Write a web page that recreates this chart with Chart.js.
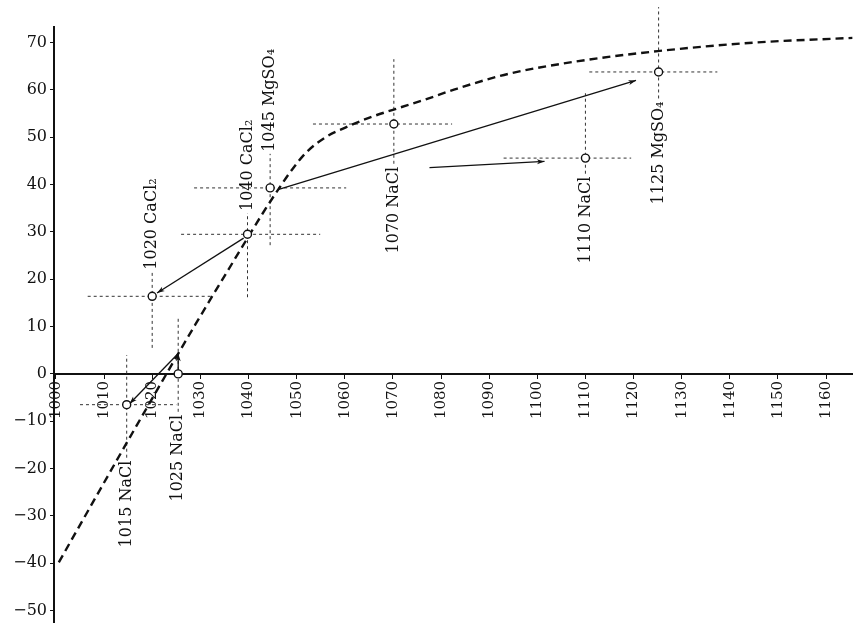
<!DOCTYPE html>
<html>
<head>
<meta charset="utf-8">
<script src="https://cdn.jsdelivr.net/npm/chart.js@4/dist/chart.umd.min.js"></script>
<style>
  html, body { margin: 0; padding: 0; background: #fff; }
  canvas { display: block; }
</style>
</head>
<body>
<canvas id="chart" width="858" height="635"></canvas>
<script>
'use strict';

// axis ticks
const xTicks = [1000, 1010, 1020, 1030, 1040, 1050, 1060, 1070, 1080, 1090, 1100, 1110, 1120, 1130, 1140, 1150, 1160];
const yTicks = [-50, -40, -30, -20, -10, 0, 10, 20, 30, 40, 50, 60, 70];

// dashed curve
const curveX = [1000.6, 1017, 1029, 1037, 1043, 1047, 1049, 1052, 1056, 1060, 1065, 1070, 1076.5, 1083.4, 1094, 1108, 1125, 1145, 1165.5];
const curveY = [-39.8, -10.5, 10.5, 24, 34, 40.2, 43.1, 46.8, 50.0, 52.0, 54.1, 55.8, 57.9, 60.3, 63.4, 66, 68.2, 70, 71];

// observations with their dotted cross ranges
const obsNames = ['1015 NaCl', '1025 NaCl', '1020 CaCl₂', '1040 CaCl₂', '1045 MgSO₄', '1070 NaCl', '1110 NaCl', '1125 MgSO₄'];
const obsX = [1014.7, 1025.4, 1020.0, 1039.8, 1044.5, 1070.2, 1110.0, 1125.2];
const obsY = [-6.5, 0, 16.4, 29.5, 39.3, 52.8, 45.6, 63.8];
const barXLo = [1005.0, null, 1006.6, 1026.0, 1028.7, 1053.4, 1093.0, 1110.8];
const barXHi = [1025.0, null, 1032.4, 1054.9, 1060.3, 1082.3, 1119.5, 1137.4];
const barYLo = [-17.7, -8.0, 5.5, 16.2, 27.2, 44.4, 42.3, 58.2];
const barYHi = [4.0, 12.1, 21.6, 34.0, 46.5, 66.5, 59.3, 77.5];
const labelSide = ['below', 'below', 'above', 'above', 'above', 'below', 'below', 'below'];

// arrows (from -> to)
const arrowFromX = [1039.0, 1046.3, 1077.6, 1025.4, 1025.4];
const arrowFromY = [28.7, 39.0, 43.6, 0.8, 4.3];
const arrowToX = [1021.0, 1120.5, 1101.5, 1025.4, 1015.3];
const arrowToY = [17.1, 62.0, 44.9, 4.3, -6.3];

const INK = '#111';
const SERIF = "'DejaVu Serif', 'Liberation Serif', serif";

// dotted crosses as one broken line
const crossData = [];
obsX.forEach((x, i) => {
    if (barXLo[i] !== null) {
        crossData.push({ x: barXLo[i], y: obsY[i] }, { x: barXHi[i], y: obsY[i] }, { x: x, y: null });
    }
    crossData.push({ x: x, y: barYLo[i] }, { x: x, y: barYHi[i] }, { x: x, y: null });
});

const arrowSets = arrowFromX.map((fx, i) => ({
    data: [{ x: fx, y: arrowFromY[i] }, { x: arrowToX[i], y: arrowToY[i] }],
    showLine: true,
    borderColor: INK,
    borderWidth: 1.3,
    pointRadius: 0,
    clip: false
}));

const datasets = [
    {
        data: obsX.map((x, i) => ({ x: x, y: obsY[i] })),
        showLine: false,
        pointRadius: 4,
        pointBackgroundColor: '#fff',
        pointBorderColor: INK,
        pointBorderWidth: 1.4
    },
    ...arrowSets,
    {
        data: curveX.map((x, i) => ({ x: x, y: curveY[i] })),
        showLine: true,
        borderColor: INK,
        borderWidth: 2.4,
        borderDash: [8, 5],
        cubicInterpolationMode: 'monotone',
        pointRadius: 0
    },
    {
        data: crossData,
        showLine: true,
        spanGaps: false,
        borderColor: '#333',
        borderWidth: 1,
        borderDash: [3, 3],
        pointRadius: 0,
        clip: false
    }
];

const annotate = {
    id: 'annotate',
    afterDatasetsDraw(chart) {
        const ctx = chart.ctx;
        const xs = chart.scales.x;
        const ys = chart.scales.y;

        // arrow heads at the end of each arrow dataset
        arrowSets.forEach((_, k) => {
            const pts = chart.getDatasetMeta(1 + k).data;
            const a = pts[0], b = pts[1];
            const ang = Math.atan2(b.y - a.y, b.x - a.x);
            const len = 8;
            ctx.save();
            ctx.fillStyle = INK;
            ctx.beginPath();
            ctx.moveTo(b.x, b.y);
            ctx.lineTo(b.x - len * Math.cos(ang - 0.32), b.y - len * Math.sin(ang - 0.32));
            ctx.lineTo(b.x - len * 0.7 * Math.cos(ang), b.y - len * 0.7 * Math.sin(ang));
            ctx.lineTo(b.x - len * Math.cos(ang + 0.32), b.y - len * Math.sin(ang + 0.32));
            ctx.closePath();
            ctx.fill();
            ctx.restore();
        });

        // vertical labels
        obsNames.forEach((name, i) => {
            const px = xs.getPixelForValue(obsX[i]);
            const above = labelSide[i] === 'above';
            const py = above ? ys.getPixelForValue(barYHi[i]) - 2 : ys.getPixelForValue(barYLo[i]) + 3;
            ctx.save();
            ctx.translate(px, py);
            ctx.rotate(-Math.PI / 2);
            ctx.font = '16px ' + SERIF;
            ctx.fillStyle = INK;
            ctx.textBaseline = 'middle';
            ctx.textAlign = above ? 'left' : 'right';
            ctx.fillText(name, 0, 0);
            ctx.restore();
        });
    }
};

new Chart(document.getElementById('chart'), {
    type: 'scatter',
    data: { datasets: datasets },
    options: {
        responsive: false,
        animation: false,
        layout: { padding: { top: 27, right: 0, bottom: 0, left: 0 } },
        plugins: {
            legend: { display: false },
            tooltip: { enabled: false }
        },
        scales: {
            x: {
                type: 'linear',
                position: { y: 0 },
                min: 999.6,
                max: 1165.5,
                afterBuildTicks: s => { s.ticks = xTicks.map(v => ({ value: v })); },
                afterFit: s => { s.height = 0; },
                border: { color: INK, width: 2 },
                grid: { drawOnChartArea: false, tickLength: 4, color: INK },
                ticks: {
                    autoSkip: false,
                    minRotation: 90,
                    maxRotation: 90,
                    padding: 3,
                    color: INK,
                    font: { family: SERIF, size: 15 },
                    callback: v => String(v)
                }
            },
            y: {
                type: 'linear',
                min: -52.5,
                max: 73.3,
                afterBuildTicks: s => { s.ticks = yTicks.map(v => ({ value: v })); },
                afterFit: s => { s.width = 54; },
                border: { color: INK, width: 2 },
                grid: { drawOnChartArea: false, tickLength: 4, color: INK },
                ticks: {
                    padding: 3,
                    color: INK,
                    font: { family: SERIF, size: 16 },
                    callback: v => (v < 0 ? '\u2212' + Math.abs(v) : String(v))
                }
            }
        }
    },
    plugins: [annotate]
});
</script>
</body>
</html>
